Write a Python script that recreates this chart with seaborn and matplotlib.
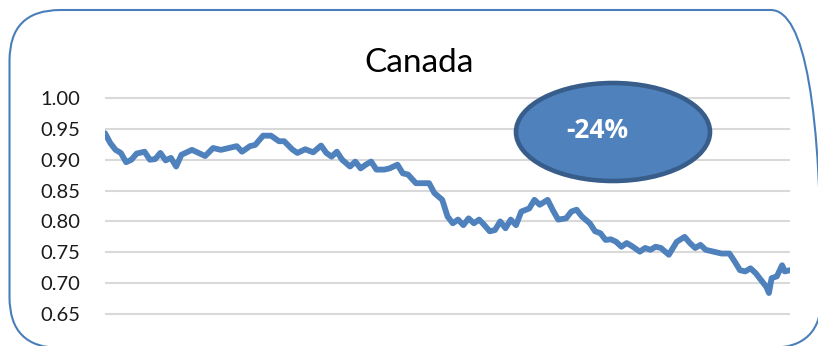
import matplotlib
matplotlib.use("Agg")
import matplotlib.pyplot as plt
from matplotlib.patches import Ellipse, FancyBboxPatch
import seaborn as sns
import pandas as pd

title = "Canada"
change_label = "-24%"
days = [0, 2, 4, 6, 8, 10, 12, 15, 17, 19, 21, 23, 25, 27, 29, 33, 36, 38, 41, 44,
        47, 50, 52, 55, 57, 60, 63, 66, 68, 71, 73, 76, 79, 82, 84, 86, 88, 90, 93, 95,
        97, 99, 101, 103, 106, 108, 111, 113, 115, 118, 121, 123, 125, 128, 130, 132, 134, 136, 138, 140,
        142, 144, 146, 148, 150, 152, 154, 156, 158, 161, 163, 165, 168, 170, 172, 175, 177, 179, 181, 184,
        186, 188, 190, 192, 194, 196, 198, 200, 203, 205, 207, 209, 211, 214, 217, 220, 222, 224, 226, 228,
        231, 234, 237, 239, 241, 243, 245, 247, 249, 251, 252, 253, 255, 257, 258, 260]
values = [0.943, 0.927, 0.916, 0.911, 0.896, 0.900, 0.910, 0.913, 0.900, 0.901, 0.911, 0.899, 0.903, 0.889, 0.908, 0.916, 0.910, 0.906, 0.919, 0.916,
          0.919, 0.922, 0.913, 0.922, 0.924, 0.939, 0.939, 0.930, 0.930, 0.917, 0.911, 0.917, 0.912, 0.923, 0.911, 0.905, 0.913, 0.900, 0.889, 0.897,
          0.886, 0.892, 0.897, 0.884, 0.884, 0.886, 0.892, 0.878, 0.876, 0.862, 0.862, 0.862, 0.846, 0.835, 0.808, 0.797, 0.803, 0.794, 0.805, 0.797,
          0.803, 0.794, 0.784, 0.786, 0.800, 0.789, 0.803, 0.794, 0.816, 0.821, 0.835, 0.827, 0.835, 0.818, 0.803, 0.805, 0.816, 0.819, 0.808, 0.797,
          0.784, 0.781, 0.770, 0.771, 0.767, 0.759, 0.765, 0.760, 0.751, 0.757, 0.754, 0.759, 0.757, 0.746, 0.767, 0.775, 0.765, 0.757, 0.762, 0.754,
          0.751, 0.748, 0.748, 0.735, 0.721, 0.719, 0.724, 0.716, 0.705, 0.694, 0.684, 0.708, 0.711, 0.729, 0.719, 0.721]
yticks = [0.65, 0.70, 0.75, 0.80, 0.85, 0.90, 0.95, 1.00]

df = pd.DataFrame({"day": days, "value": values})

sns.set_style("white")
plt.rcParams["font.family"] = ["Lato", "DejaVu Sans"]

fig = plt.figure(figsize=(8.18, 3.46), dpi=100)
ax = fig.add_axes([0.1284, 0.0836, 0.8374, 0.642])

sns.lineplot(data=df, x="day", y="value", ax=ax, color="#4F81BD", linewidth=4.2)

ax.set_xlim(0, 260)
ax.set_ylim(0.645, 1.005)
ax.set_yticks(yticks)
ax.set_yticklabels([f"{t:.2f}" for t in yticks], fontsize=14.5, color="#1a1a1a")
ax.set_xticks([])
ax.set_xlabel("")
ax.set_ylabel("")
ax.tick_params(axis="y", length=0, pad=18)
ax.yaxis.grid(True, color="#D9D9D9", linewidth=1.5)
ax.set_axisbelow(True)
for s in ax.spines.values():
    s.set_visible(False)

fig.text(419 / 818, 1 - 63 / 346, title, ha="center", va="center", fontsize=24, color="#000000")

box = FancyBboxPatch((9.5 / 818, 1 - 348 / 346), 812 / 818, 338 / 346,
                     boxstyle="round,pad=0,rounding_size=0.062",
                     transform=fig.transFigure, facecolor="none",
                     edgecolor="#4A7EBB", linewidth=1.5, mutation_aspect=818 / 346)
fig.add_artist(box)

ell = Ellipse((613 / 818, 1 - 132 / 346), 194 / 818, 98 / 346, transform=fig.transFigure,
              facecolor="#4F81BD", edgecolor="#385D8A", linewidth=3.3, zorder=5)
fig.add_artist(ell)
fig.text(597 / 818, 1 - 130 / 346, change_label, ha="center", va="center", fontsize=19,
         color="white", fontweight="bold", family=["Open Sans", "DejaVu Sans"], zorder=6)

fig.savefig("out.png", dpi=100)
